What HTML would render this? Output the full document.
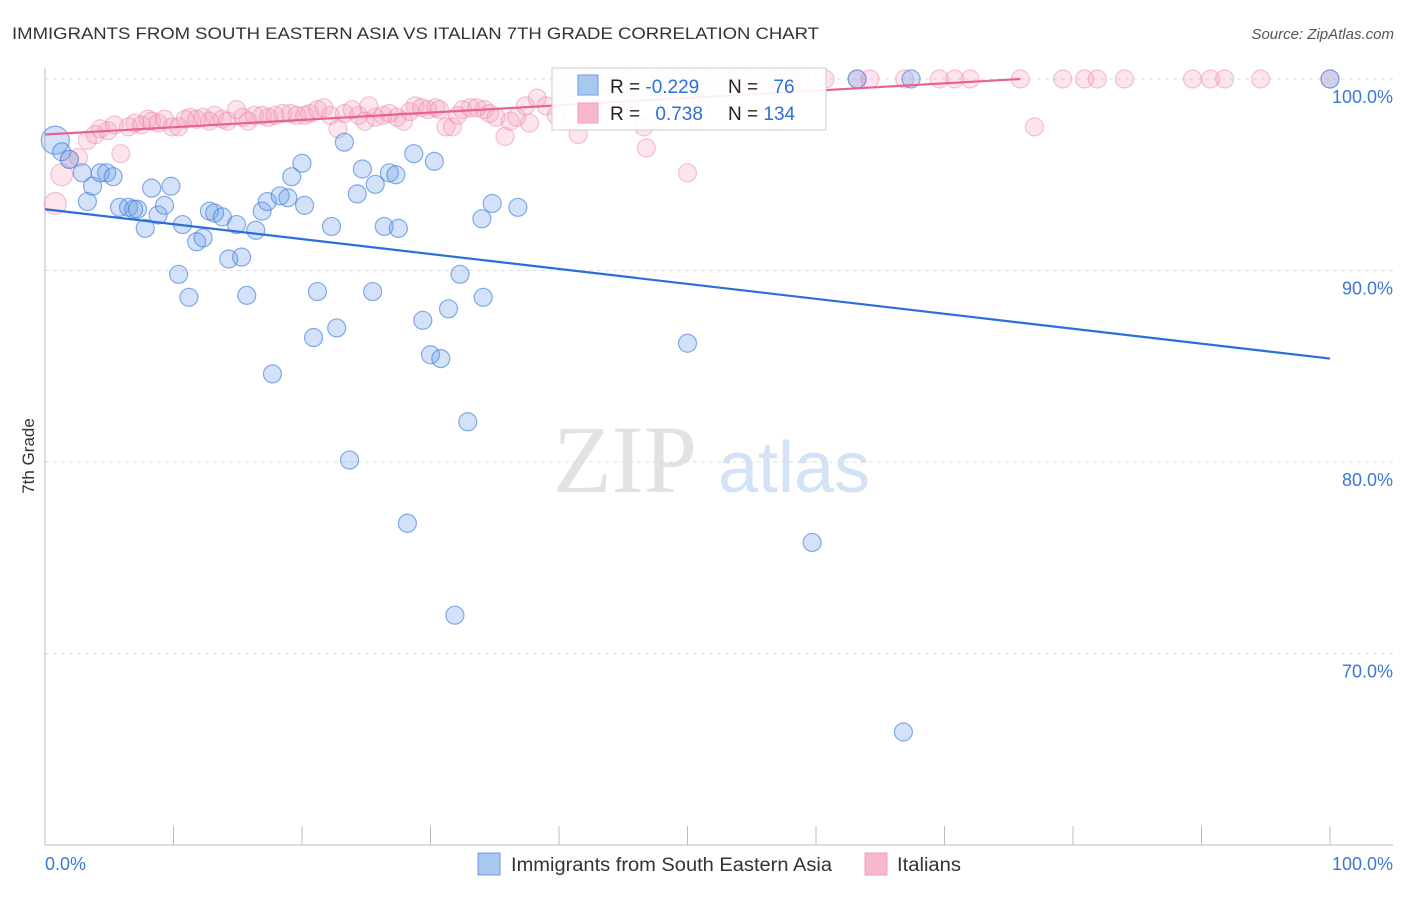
<!DOCTYPE html>
<html><head><meta charset="utf-8"><style>
body{margin:0;background:#fff;font-family:"Liberation Sans",sans-serif}
svg text{font-family:"Liberation Sans",sans-serif}
</style></head><body>
<svg id="chart" width="1406" height="892" xmlns="http://www.w3.org/2000/svg">
<text x="12" y="39" font-size="17" fill="#333" textLength="807" lengthAdjust="spacingAndGlyphs">IMMIGRANTS FROM SOUTH EASTERN ASIA VS ITALIAN 7TH GRADE CORRELATION CHART</text>
<text x="1394" y="39" font-size="15" fill="#555" font-style="italic" text-anchor="end">Source: ZipAtlas.com</text>
<g>
<text x="553" y="492" font-size="96" fill="#e2e2e2" font-family="Liberation Serif" style="font-family:'Liberation Serif',serif">ZIP</text>
<text x="718" y="492" font-size="72" fill="#d3e3f5">atlas</text>
</g>
<g id="grid"></g>
<g id="axes"></g>
<g id="pts"></g>
<g id="lines"></g>
<text x="34" y="456" font-size="17" fill="#333" transform="rotate(-90 34 456)" text-anchor="middle">7th Grade</text>
<g>
<rect x="552" y="68" width="274" height="62" fill="#fff" fill-opacity="0.9" stroke="#ccc"/>
<rect x="578" y="75" width="20" height="20" fill="#a8c8f0" stroke="#6a9de0"/>
<rect x="578" y="103" width="20" height="20" fill="#f8b8cb" stroke="#f0a0b8"/>
<text x="610" y="93" font-size="19" fill="#222">R = <tspan fill="#2e6fd6">-0.229</tspan></text>
<text x="728" y="93" font-size="19" fill="#222">N = <tspan fill="#2e6fd6" dx="10">76</tspan></text>
<text x="610" y="120" font-size="19" fill="#222">R = <tspan fill="#2e6fd6" dx="10">0.738</tspan></text>
<text x="728" y="120" font-size="19" fill="#222">N = <tspan fill="#2e6fd6">134</tspan></text>
</g>
<g>
<rect x="478" y="853" width="22" height="22" fill="#a8c8f0" stroke="#6a9de0"/>
<text x="511" y="871" font-size="19" fill="#333" textLength="321" lengthAdjust="spacingAndGlyphs">Immigrants from South Eastern Asia</text>
<rect x="865" y="853" width="22" height="22" fill="#f8b8cb" stroke="#f0a0b8"/>
<text x="897" y="871" font-size="19" fill="#333" textLength="64" lengthAdjust="spacingAndGlyphs">Italians</text>
</g>
</svg>
<script>
const blueX=[0.8,1.3,1.9,2.9,3.3,3.7,4.3,4.8,5.3,5.8,6.5,6.9,7.2,7.8,8.3,8.8,9.3,9.8,10.4,10.7,11.2,11.8,12.3,12.8,13.2,13.8,14.3,14.9,15.3,15.7,16.4,16.9,17.3,17.7,18.3,18.9,19.2,20.0,20.2,20.9,21.2,22.3,22.7,23.3,23.7,24.3,24.7,25.5,25.7,26.4,26.8,27.3,27.5,28.2,28.7,29.4,30.0,30.3,30.8,31.4,31.9,32.3,32.9,34.1,34.0,34.8,36.8,50.0,59.7,66.8,63.2,67.4,100,42.4];
const blueY=[96.8,96.2,95.8,95.1,93.6,94.4,95.1,95.1,94.9,93.3,93.3,93.2,93.2,92.2,94.3,92.9,93.4,94.4,89.8,92.4,88.6,91.5,91.7,93.1,93.0,92.8,90.6,92.4,90.7,88.7,92.1,93.1,93.6,84.6,93.9,93.8,94.9,95.6,93.4,86.5,88.9,92.3,87.0,96.7,80.1,94.0,95.3,88.9,94.5,92.3,95.1,95.0,92.2,76.8,96.1,87.4,85.6,95.7,85.4,88.0,72.0,89.8,82.1,88.6,92.7,93.5,93.3,86.2,75.8,65.9,100,100,100,99.7];
const pinkX=[0.8,1.3,1.9,2.6,3.3,3.9,4.3,4.9,5.4,5.9,6.5,7.0,7.5,8.0,8.3,8.8,9.3,9.9,10.4,10.9,11.3,11.8,12.3,12.8,13.2,13.8,14.2,14.9,15.4,15.8,16.3,16.9,17.4,17.9,18.5,19.1,19.6,20.2,20.6,21.2,21.7,22.2,22.8,23.3,23.9,24.4,24.9,25.2,25.7,26.3,26.8,27.4,27.9,28.4,28.8,29.3,29.8,30.4,30.7,31.2,31.7,32.1,32.5,33.1,33.6,34.2,34.6,35.1,35.8,36.2,36.7,37.4,37.7,38.3,39.0,39.8,41.5,43.2,44.0,44.9,46.6,46.8,47.9,49.0,50.2,51.0,50.0,51.8,53.3,54.9,56.4,58.0,58.8,60.7,63.2,64.2,66.9,69.6,70.8,72.0,75.9,77.0,79.2,80.9,81.9,84.0,89.3,90.7,91.8,94.6,100,40.5,42.0,45.5];
const pinkY=[93.5,95.0,95.8,95.9,96.8,97.1,97.4,97.3,97.6,96.1,97.5,97.7,97.6,97.9,97.8,97.7,97.9,97.5,97.5,97.9,98.0,97.9,98.0,97.8,98.1,97.9,97.8,98.4,98.0,97.8,98.1,98.1,98.0,98.1,98.2,98.2,98.1,98.1,98.2,98.4,98.5,98.1,97.4,98.2,98.4,98.1,97.8,98.6,98.0,98.1,98.2,98.0,97.8,98.3,98.6,98.5,98.4,98.5,98.4,97.5,97.5,98.1,98.4,98.5,98.5,98.4,98.2,98.0,97.0,97.8,98.0,98.6,97.7,99.0,98.6,98.1,97.1,99.1,99.7,99.1,97.5,96.4,100,100,100,98.4,95.1,100,100,100,100,100,100,100,100,100,100,100,100,100,100,97.5,100,100,100,100,100,100,100,100,100,99.5,100,100];
const yTicks=[100,90,80,70];
const yTickLabels=["100.0%","90.0%","80.0%","70.0%"];
const blueTrend=[93.2,85.4];
const pinkTrend=[97.1,100,75.9];
const NS="http://www.w3.org/2000/svg";
const X0=45,X1=1330,Ytop=79,Ypx=19.15;
const sx=v=>X0+(X1-X0)*v/100;
const sy=v=>Ytop+(100-v)*Ypx;
function mk(tag,attrs,parent){const e=document.createElementNS(NS,tag);for(const k in attrs)e.setAttribute(k,attrs[k]);parent.appendChild(e);return e;}
const grid=document.getElementById('grid'),axes=document.getElementById('axes'),pts=document.getElementById('pts'),lines=document.getElementById('lines');
yTicks.forEach((t,i)=>{
 const l=mk('line',{x1:45,x2:1393,y1:sy(t),y2:sy(t),stroke:'#ddd','stroke-dasharray':'4 4'},grid);
 
 
 const tx=mk('text',{x:1393,y:sy(t)+24,'font-size':18,fill:'#3a78d8','text-anchor':'end'},axes);
 tx.textContent=yTickLabels[i];
 
 
});
const ax=mk('line',{x1:45,x2:1393,y1:845,y2:845,stroke:'#bbb'},axes);


const ay=mk('line',{x1:45,x2:45,y1:68,y2:845,stroke:'#bbb'},axes);


for(let k=1;k<=10;k++){const t=mk('line',{x1:sx(k*10),x2:sx(k*10),y1:826,y2:845,stroke:'#bbb'},axes);
 
 }
const xl0=mk('text',{x:45,y:870,'font-size':18,fill:'#3a78d8'},axes);xl0.textContent='0.0%';


const xl1=mk('text',{x:1393,y:870,'font-size':18,fill:'#3a78d8','text-anchor':'end'},axes);xl1.textContent='100.0%';


pinkX.forEach((x,i)=>{const r=i<2?11:9;
 const c=mk('circle',{cx:sx(x),cy:sy(pinkY[i]),r:r,fill:'rgba(244,150,178,0.25)',stroke:'rgba(236,140,170,0.5)','stroke-width':1.2},pts);
 
 });
blueX.forEach((x,i)=>{const r=i===0?14:9;
 const c=mk('circle',{cx:sx(x),cy:sy(blueY[i]),r:r,fill:'rgba(110,160,232,0.3)',stroke:'rgba(70,130,220,0.65)','stroke-width':1.2},pts);
 
 });
const bl=mk('line',{x1:sx(0),y1:sy(blueTrend[0]),x2:sx(100),y2:sy(blueTrend[1]),stroke:'#2a6fd8','stroke-width':2.2},lines);


const pl=mk('line',{x1:sx(0),y1:sy(pinkTrend[0]),x2:sx(pinkTrend[2]),y2:sy(pinkTrend[1]),stroke:'#e8628e','stroke-width':2.2},lines);


</script>
</body></html>
